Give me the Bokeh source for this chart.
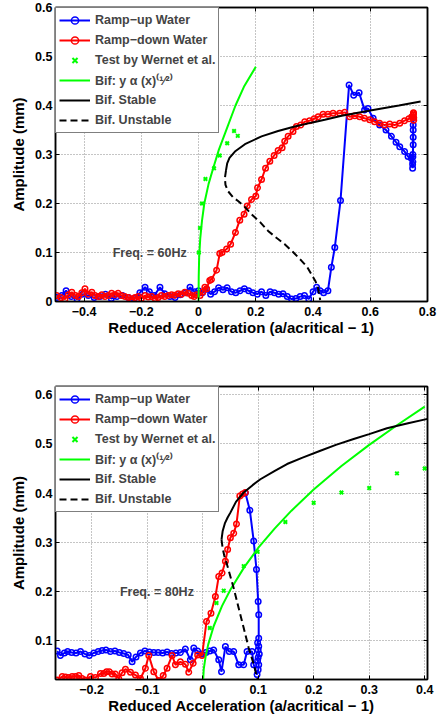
from bokeh.plotting import figure
from bokeh.layouts import column
from bokeh.models import Range1d, FixedTicker, LinearAxis, Label
from bokeh.embed import file_html
from bokeh.resources import INLINE

# ---------------- data: 60 Hz panel ----------------
up60_x = [-0.496, -0.478, -0.463, -0.445, -0.425, -0.405, -0.385, -0.365, -0.345, -0.325,
          -0.305, -0.285, -0.265, -0.245, -0.225, -0.205, -0.187, -0.172, -0.155, -0.135,
          -0.118, -0.100, -0.082, -0.064, -0.046, -0.030, -0.014, 0.000, 0.014, 0.028,
          0.042, 0.056, 0.070, 0.085, 0.100, 0.115, 0.130, 0.145, 0.160, 0.175,
          0.190, 0.205, 0.220, 0.235, 0.250, 0.265, 0.280, 0.295, 0.310, 0.325,
          0.340, 0.355, 0.370, 0.385, 0.400, 0.413, 0.425, 0.437, 0.452, 0.464,
          0.476, 0.496, 0.526, 0.542, 0.561, 0.580, 0.592, 0.610, 0.633, 0.655,
          0.674, 0.690, 0.703, 0.720, 0.732, 0.743, 0.748, 0.749, 0.749, 0.750,
          0.750, 0.750, 0.750, 0.750, 0.749, 0.748]
up60_y = [0.008, 0.012, 0.022, 0.010, 0.005, 0.015, 0.012, 0.008, 0.010, 0.015,
          0.006, 0.010, 0.012, 0.008, 0.006, 0.018, 0.029, 0.020, 0.012, 0.029,
          0.016, 0.010, 0.008, 0.014, 0.018, 0.029, 0.020, 0.022, 0.018, 0.025,
          0.015, 0.020, 0.028, 0.024, 0.028, 0.020, 0.018, 0.022, 0.026, 0.022,
          0.018, 0.015, 0.020, 0.012, 0.020, 0.018, 0.015, 0.016, 0.010, 0.005,
          0.006, 0.010, 0.012, 0.005, 0.020, 0.029, 0.022, 0.018, 0.022, 0.070,
          0.110, 0.206, 0.442, 0.421, 0.426, 0.391, 0.394, 0.374, 0.360, 0.350,
          0.337, 0.325, 0.316, 0.306, 0.296, 0.293, 0.272, 0.285, 0.300, 0.320,
          0.335, 0.350, 0.360, 0.375, 0.295, 0.280]

down60_x = [-0.496, -0.481, -0.467, -0.455, -0.443, -0.430, -0.420, -0.408, -0.397, -0.385,
            -0.373, -0.362, -0.350, -0.338, -0.327, -0.315, -0.304, -0.292, -0.281, -0.270,
            -0.257, -0.245, -0.234, -0.222, -0.211, -0.200, -0.187, -0.176, -0.164, -0.152,
            -0.141, -0.130, -0.118, -0.106, -0.094, -0.083, -0.071, -0.060, -0.048, -0.036,
            -0.024, -0.015, -0.007, 0.005, 0.015, 0.022, 0.028, 0.039, 0.045, 0.063,
            0.074, 0.082, 0.098, 0.112, 0.129, 0.144, 0.159, 0.170, 0.185, 0.200,
            0.206, 0.220, 0.234, 0.249, 0.264, 0.278, 0.292, 0.301, 0.313, 0.330,
            0.342, 0.357, 0.371, 0.388, 0.404, 0.418, 0.435, 0.452, 0.470, 0.493,
            0.511, 0.528, 0.546, 0.563, 0.580, 0.598, 0.615, 0.633, 0.650, 0.668,
            0.685, 0.703, 0.720, 0.735, 0.745, 0.750, 0.751, 0.752, 0.752, 0.751]
down60_y = [0.012, 0.008, 0.005, 0.014, 0.019, 0.012, 0.010, 0.018, 0.026, 0.015,
            0.019, 0.012, 0.010, 0.014, 0.010, 0.012, 0.017, 0.014, 0.017, 0.012,
            0.010, 0.008, 0.005, 0.008, 0.010, 0.006, 0.012, 0.009, 0.010, 0.006,
            0.008, 0.012, 0.010, 0.012, 0.014, 0.013, 0.016, 0.015, 0.019, 0.017,
            0.012, 0.010, 0.014, 0.012, 0.020, 0.029, 0.026, 0.043, 0.045, 0.064,
            0.098, 0.100, 0.107, 0.117, 0.141, 0.166, 0.178, 0.195, 0.208, 0.215,
            0.232, 0.249, 0.272, 0.286, 0.298, 0.308, 0.314, 0.327, 0.337, 0.347,
            0.357, 0.360, 0.367, 0.369, 0.373, 0.377, 0.382, 0.382, 0.384, 0.384,
            0.386, 0.377, 0.379, 0.377, 0.374, 0.371, 0.367, 0.364, 0.360, 0.362,
            0.360, 0.364, 0.369, 0.373, 0.377, 0.380, 0.385, 0.370, 0.375, 0.383]

wernet60_x = [0.001, 0.005, 0.012, 0.024, 0.054, 0.074, 0.100, 0.124, 0.137]
wernet60_y = [0.100, 0.150, 0.200, 0.250, 0.272, 0.298, 0.323, 0.348, 0.338]

bif60_x = [0.0, 0.0005, 0.002, 0.006, 0.012, 0.020, 0.035, 0.050, 0.071, 0.100, 0.129, 0.160, 0.200]
bif60_y = [0.0, 0.050, 0.090, 0.130, 0.165, 0.200, 0.240, 0.270, 0.310, 0.355, 0.400, 0.440, 0.479]

stable60_x = [0.096, 0.100, 0.108, 0.127, 0.162, 0.220, 0.278, 0.336, 0.394, 0.441, 0.500, 0.600, 0.700, 0.776]
stable60_y = [0.268, 0.282, 0.293, 0.306, 0.321, 0.337, 0.348, 0.357, 0.365, 0.371, 0.379, 0.390, 0.400, 0.408]

unstable60_x = [0.096, 0.092, 0.094, 0.103, 0.120, 0.138, 0.160, 0.185, 0.215, 0.243,
                0.272, 0.301, 0.330, 0.360, 0.380, 0.394, 0.408, 0.417, 0.425]
unstable60_y = [0.268, 0.252, 0.238, 0.225, 0.213, 0.205, 0.194, 0.178, 0.162, 0.144,
                0.130, 0.117, 0.101, 0.083, 0.070, 0.056, 0.042, 0.029, 0.003]

# ---------------- data: 80 Hz panel ----------------
up80_x = [-0.262, -0.256, -0.249, -0.243, -0.236, -0.228, -0.220, -0.212, -0.204, -0.196,
          -0.188, -0.181, -0.174, -0.166, -0.158, -0.150, -0.142, -0.134, -0.127, -0.120,
          -0.112, -0.104, -0.096, -0.088, -0.080, -0.072, -0.064, -0.056, -0.048, -0.040,
          -0.031, -0.022, -0.016, -0.009, -0.002, 0.006, 0.013, 0.020, 0.029, 0.034,
          0.041, 0.048, 0.056, 0.065, 0.074, 0.080, 0.089, 0.092, 0.098, 0.100,
          0.101, 0.099, 0.100, 0.102, 0.100, 0.101, 0.099, 0.101, 0.101, 0.100,
          0.097, 0.092, 0.085, 0.077]
up80_y = [0.078, 0.069, 0.074, 0.077, 0.075, 0.074, 0.077, 0.072, 0.069, 0.074,
          0.077, 0.079, 0.080, 0.077, 0.078, 0.075, 0.073, 0.070, 0.056, 0.066,
          0.074, 0.078, 0.076, 0.075, 0.075, 0.074, 0.076, 0.073, 0.074, 0.075,
          0.082, 0.060, 0.084, 0.078, 0.072, 0.075, 0.078, 0.080, 0.060, 0.036,
          0.087, 0.077, 0.077, 0.050, 0.050, 0.077, 0.077, 0.050, 0.030, 0.040,
          0.050, 0.058, 0.065, 0.072, 0.080, 0.088, 0.095, 0.104, 0.152, 0.179,
          0.244, 0.302, 0.365, 0.400]

down80_x = [-0.262, -0.253, -0.247, -0.241, -0.235, -0.229, -0.223, -0.217, -0.211, -0.202,
            -0.193, -0.184, -0.178, -0.173, -0.168, -0.163, -0.157, -0.151, -0.145, -0.139,
            -0.130, -0.121, -0.112, -0.103, -0.097, -0.088, -0.079, -0.071, -0.064, -0.055,
            -0.049, -0.040, -0.031, -0.025, -0.017, -0.009, -0.001, 0.007, 0.015, 0.023,
            0.029, 0.035, 0.041, 0.045, 0.050, 0.056, 0.061, 0.067, 0.072, 0.077]
down80_y = [0.019, 0.026, 0.025, 0.024, 0.026, 0.026, 0.028, 0.022, 0.019, 0.026,
            0.024, 0.032, 0.032, 0.036, 0.036, 0.031, 0.031, 0.022, 0.034, 0.041,
            0.035, 0.029, 0.022, 0.043, 0.069, 0.036, 0.018, 0.028, 0.043, 0.069,
            0.050, 0.056, 0.051, 0.035, 0.053, 0.070, 0.069, 0.138, 0.155, 0.189,
            0.230, 0.237, 0.261, 0.285, 0.309, 0.318, 0.337, 0.394, 0.398, 0.401]

wernet80_x = [0.013, 0.025, 0.038, 0.074, 0.099, 0.149, 0.200, 0.250, 0.300, 0.350, 0.400]
wernet80_y = [0.125, 0.176, 0.201, 0.251, 0.280, 0.341, 0.380, 0.401, 0.410, 0.440, 0.450]

bif80_x = [0.0, 0.002, 0.005, 0.010, 0.020, 0.035, 0.050, 0.075, 0.100, 0.130, 0.160, 0.200, 0.250, 0.300, 0.350, 0.400]
bif80_y = [0.0, 0.041, 0.064, 0.091, 0.129, 0.170, 0.203, 0.249, 0.288, 0.328, 0.364, 0.407, 0.455, 0.498, 0.538, 0.576]

stable80_x = [0.034, 0.036, 0.040, 0.045, 0.050, 0.060, 0.074, 0.090, 0.104, 0.130,
              0.152, 0.180, 0.212, 0.240, 0.272, 0.300, 0.332, 0.370, 0.405]
stable80_y = [0.305, 0.322, 0.338, 0.350, 0.360, 0.382, 0.401, 0.416, 0.428, 0.445,
              0.459, 0.472, 0.486, 0.498, 0.510, 0.520, 0.532, 0.542, 0.551]

unstable80_x = [0.034, 0.036, 0.039, 0.044, 0.050, 0.056, 0.065, 0.074, 0.083, 0.092, 0.098, 0.100]
unstable80_y = [0.305, 0.288, 0.272, 0.254, 0.230, 0.206, 0.165, 0.125, 0.084, 0.051, 0.024, 0.015]

# ---------------- ticks / labels ----------------
xticks60 = [-0.4, -0.2, 0, 0.2, 0.4, 0.6, 0.8]
xlabels60 = ["\u22120.4", "\u22120.2", "0", "0.2", "0.4", "0.6", "0.8"]
yticks60 = [0, 0.1, 0.2, 0.3, 0.4, 0.5, 0.6]
ylabels60 = ["0", "0.1", "0.2", "0.3", "0.4", "0.5", "0.6"]

xticks80 = [-0.2, -0.1, 0, 0.1, 0.2, 0.3, 0.4]
xlabels80 = ["\u22120.2", "\u22120.1", "0", "0.1", "0.2", "0.3", "0.4"]
yticks80 = [0.1, 0.2, 0.3, 0.4, 0.5, 0.6]
ylabels80 = ["0.1", "0.2", "0.3", "0.4", "0.5", "0.6"]

LBL_UP = "Ramp\u2212up Water"
LBL_DOWN = "Ramp\u2212down Water"
LBL_WER = "Test by Wernet et al."
LBL_BIF = "Bif: y \u03b1 (x)\u207d\u00b9\u2044\u00b2\u207e"
LBL_ST = "Bif. Stable"
LBL_UN = "Bif. Unstable"
XLABEL = "Reduced Acceleration (a/acritical \u2212 1)"
YLABEL = "Amplitude (mm)"

FONT = "Liberation Sans"
GREEN = "#00ff00"


def overrides(ticks, labels):
    d = {}
    for t, l in zip(ticks, labels):
        d[float(t)] = l
    return d


def make_panel(xr, yr, xt, xl, yt, yl, border_top, border_bottom, border_right,
               up, down, wer, bif, st, un, freq_text, freq_pos):
    p = figure(width=440, height=359, x_range=Range1d(*xr), y_range=Range1d(*yr),
               output_backend="svg", toolbar_location=None,
               min_border_left=55, min_border_right=border_right,
               min_border_top=border_top, min_border_bottom=border_bottom)
    p.background_fill_color = "white"
    p.border_fill_color = "white"
    p.outline_line_color = "black"
    p.outline_line_width = 1.5

    # data
    p.line(up[0], up[1], color="blue", line_width=2, legend_label=LBL_UP)
    p.scatter(up[0], up[1], marker="circle", size=5.5, fill_color=None,
              line_color="blue", line_width=1.5, legend_label=LBL_UP)
    p.line(down[0], down[1], color="red", line_width=2, legend_label=LBL_DOWN)
    p.scatter(down[0], down[1], marker="circle", size=5.5, fill_color=None,
              line_color="red", line_width=1.5, legend_label=LBL_DOWN)
    p.scatter(wer[0], wer[1], marker="x", size=5, line_color=GREEN, line_width=2,
              legend_label=LBL_WER)
    p.line(bif[0], bif[1], color=GREEN, line_width=2, legend_label=LBL_BIF)
    p.line(st[0], st[1], color="black", line_width=2, legend_label=LBL_ST)
    p.line(un[0], un[1], color="black", line_width=2, line_dash="7 4", legend_label=LBL_UN)

    # axes
    p.xaxis.ticker = FixedTicker(ticks=xt)
    p.yaxis.ticker = FixedTicker(ticks=yt)
    p.xgrid.ticker = FixedTicker(ticks=xt)
    p.ygrid.ticker = FixedTicker(ticks=yt)
    p.xaxis.major_label_overrides = overrides(xt, xl)
    p.yaxis.major_label_overrides = overrides(yt, yl)
    for ax in (p.xaxis[0], p.yaxis[0]):
        ax.major_tick_in = 4
        ax.major_tick_out = 0
        ax.minor_tick_line_color = None
        ax.axis_line_width = 1.5
        ax.major_tick_line_width = 1
        ax.major_label_text_font = FONT
        ax.major_label_text_font_style = "bold"
        ax.major_label_text_font_size = "12.5px"
        ax.major_label_text_color = "black"
        ax.axis_label_text_font = FONT
        ax.axis_label_text_font_style = "bold"
        ax.axis_label_text_font_size = "15px"
        ax.axis_label_text_color = "black"
    p.xaxis.axis_label = XLABEL
    p.yaxis.axis_label = YLABEL
    p.xaxis.major_label_standoff = 5
    p.xaxis.axis_label_standoff = 0
    p.yaxis.major_label_standoff = 3
    p.yaxis.axis_label_standoff = 5

    # box axes (ticks only, no labels)
    for loc, t in (("above", xt), ("right", yt)):
        ax = LinearAxis(ticker=FixedTicker(ticks=t), major_tick_in=4, major_tick_out=0,
                        minor_tick_line_color=None, major_label_text_font_size="0px",
                        major_label_text_color=None, major_label_standoff=0,
                        axis_line_width=1.5)
        p.add_layout(ax, loc)

    for g in (p.xgrid[0], p.ygrid[0]):
        g.grid_line_color = "#8a8a8a"
        g.grid_line_dash = "1 2"
        g.grid_line_width = 1

    # legend
    lg = p.legend[0]
    lg.location = "top_left"
    lg.margin = 0
    lg.padding = 3
    lg.spacing = 2
    lg.glyph_height = 18
    lg.label_height = 18
    lg.glyph_width = 31
    lg.label_standoff = 5
    lg.label_text_font = FONT
    lg.label_text_font_style = "bold"
    lg.label_text_font_size = "12.5px"
    lg.border_line_color = "black"
    lg.border_line_width = 1.5
    lg.background_fill_color = "white"
    lg.background_fill_alpha = 1.0

    p.add_layout(Label(x=freq_pos[0], y=freq_pos[1], text=freq_text, text_baseline="middle",
                       text_font=FONT, text_font_style="bold", text_font_size="12.5px"))
    return p


p1 = make_panel((-0.5, 0.8), (0, 0.6), xticks60, xlabels60, yticks60, ylabels60, 7, 58, 12,
                (up60_x, up60_y), (down60_x, down60_y), (wernet60_x, wernet60_y),
                (bif60_x, bif60_y), (stable60_x, stable60_y), (unstable60_x, unstable60_y),
                "Freq. = 60Hz", (-0.30, 0.10))
p2 = make_panel((-0.265, 0.405), (0.02, 0.617), xticks80, xlabels80, yticks80, ylabels80, 27, 39, 13,
                (up80_x, up80_y), (down80_x, down80_y), (wernet80_x, wernet80_y),
                (bif80_x, bif80_y), (stable80_x, stable80_y), (unstable80_x, unstable80_y),
                "Freq. = 80Hz", (-0.149, 0.198))

layout = column(p1, p2, spacing=0)
open("out.html", "w").write(file_html(layout, INLINE))
